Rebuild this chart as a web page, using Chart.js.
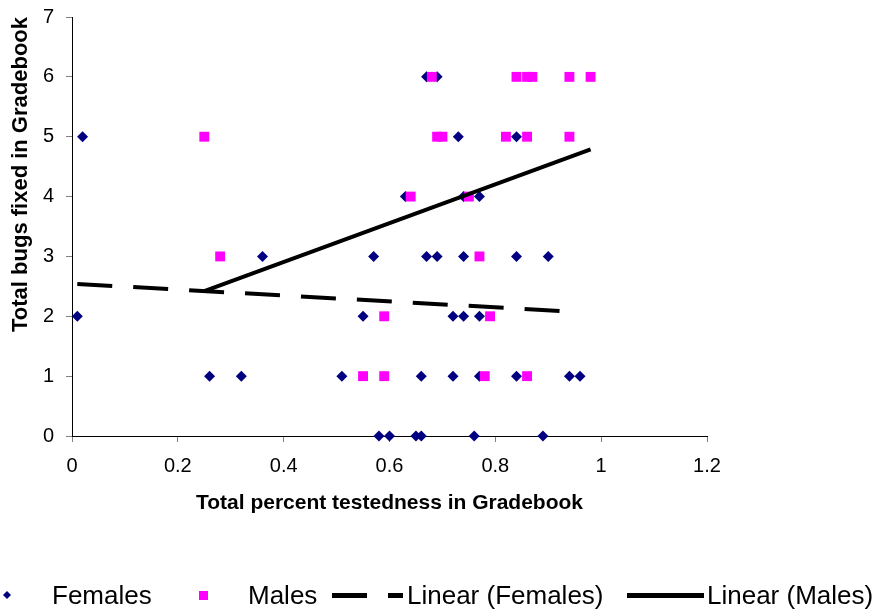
<!DOCTYPE html>
<html>
<head>
<meta charset="utf-8">
<script src="https://cdn.jsdelivr.net/npm/chart.js@4.4.1/dist/chart.umd.min.js"></script>
<style>
  body { margin: 0; background: #fff; }
  #wrap { position: relative; width: 881px; height: 612px; font-family: Arial, "Liberation Sans", sans-serif; }
  #legend span { position: absolute; top: 580px; font-size: 26px; line-height: 30px; color: #000; white-space: nowrap; }
  #legend svg { position: absolute; left: 0; top: 0; }
</style>
</head>
<body>
<div id="wrap">
  <canvas id="bugsChart" width="881" height="612"></canvas>
  <div id="legend">
    <svg width="881" height="612">
      <polygon points="7,591 11,595 7,599 3,595" fill="#000080"/>
      <rect x="199" y="591" width="9" height="9" fill="#FF00FF"/>
      <rect x="332" y="593" width="35" height="5" fill="#000"/>
      <rect x="388" y="593" width="15" height="5" fill="#000"/>
      <rect x="627" y="593" width="77" height="5" fill="#000"/>
    </svg>
    <span style="left:52px">Females</span>
    <span style="left:248px">Males</span>
    <span style="left:407px">Linear (Females)</span>
    <span style="left:707px">Linear (Males)</span>
  </div>
</div>
<script>
// values
const femaleX = [0.67, 0.69,
                 0.02, 0.73, 0.84,
                 0.63, 0.74, 0.77,
                 0.36, 0.57, 0.67, 0.69, 0.74, 0.84, 0.90,
                 0.01, 0.55, 0.72, 0.74, 0.77,
                 0.26, 0.32, 0.51, 0.66, 0.72, 0.77, 0.84, 0.94, 0.96,
                 0.58, 0.60, 0.65, 0.66, 0.76, 0.89];
const femaleY = [6, 6,
                 5, 5, 5,
                 4, 4, 4,
                 3, 3, 3, 3, 3, 3, 3,
                 2, 2, 2, 2, 2,
                 1, 1, 1, 1, 1, 1, 1, 1, 1,
                 0, 0, 0, 0, 0, 0];

const maleX = [0.68, 0.84, 0.86, 0.87, 0.94, 0.98,
               0.25, 0.69, 0.70, 0.82, 0.86, 0.94,
               0.64, 0.75,
               0.28, 0.77,
               0.59, 0.79,
               0.55, 0.59, 0.78, 0.86];
const maleY = [6, 6, 6, 6, 6, 6,
               5, 5, 5, 5, 5, 5,
               4, 4,
               3, 3,
               2, 2,
               1, 1, 1, 1];

// trendline end points (as drawn)
const femaleTrendX = [0.01, 0.96];
const femaleTrendY = [2.54, 2.07];
const maleTrendX = [0.25, 0.98];
const maleTrendY = [2.42, 4.79];

const xTickLabels = ['0', '0.2', '0.4', '0.6', '0.8', '1', '1.2'];
const yTickLabels = ['0', '1', '2', '3', '4', '5', '6', '7'];

const toPoints = (xs, ys) => xs.map((x, i) => ({ x: x, y: ys[i] }));

const font = 'Arial, "Liberation Sans", sans-serif';

const ctx = document.getElementById('bugsChart').getContext('2d');
const bugsChart = new Chart(ctx, {
    type: 'scatter',
    data: {
        datasets: [{
            label: 'Linear (Females)',
            data: toPoints(femaleTrendX, femaleTrendY),
            showLine: true,
            borderColor: '#000',
            borderWidth: 4,
            borderDash: [35, 21],
            pointRadius: 0,
            order: 0,
            clip: false
        }, {
            label: 'Linear (Males)',
            data: toPoints(maleTrendX, maleTrendY),
            showLine: true,
            borderColor: '#000',
            borderWidth: 4,
            pointRadius: 0,
            order: 0,
            clip: false
        }, {
            label: 'Males',
            data: toPoints(maleX, maleY),
            pointStyle: 'rect',
            pointRadius: 7,
            borderWidth: 0,
            backgroundColor: '#FF00FF',
            borderColor: '#FF00FF',
            order: 1,
            clip: false
        }, {
            label: 'Females',
            data: toPoints(femaleX, femaleY),
            pointStyle: 'rectRot',
            pointRadius: 5.5,
            borderWidth: 0,
            backgroundColor: '#000080',
            borderColor: '#000080',
            order: 2,
            clip: false
        }]
    },
    options: {
        responsive: false,
        animation: false,
        layout: {
            padding: { left: 0, top: 17, right: 174, bottom: 92 }
        },
        plugins: {
            legend: { display: false },
            tooltip: { enabled: false }
        },
        scales: {
            x: {
                type: 'linear',
                min: 0,
                max: 1.2,
                ticks: {
                    stepSize: 0.2,
                    padding: 12,
                    color: '#000',
                    font: { family: font, size: 20 },
                    maxRotation: 0,
                    callback: (v, i) => xTickLabels[i]
                },
                grid: { display: true, drawOnChartArea: false, drawTicks: true, tickLength: 6, color: '#808080' },
                border: { display: true, color: '#000', width: 1 },
                title: {
                    display: true,
                    text: 'Total percent testedness in Gradebook',
                    color: '#000',
                    font: { family: font, size: 21, weight: 'bold' },
                    padding: { top: 0, bottom: 4 }
                },
                afterFit: (scale) => { scale.height = 84; }
            },
            y: {
                type: 'linear',
                min: 0,
                max: 7,
                ticks: {
                    stepSize: 1,
                    padding: 12,
                    color: '#000',
                    font: { family: font, size: 20 },
                    callback: (v, i) => yTickLabels[i]
                },
                grid: { display: true, drawOnChartArea: false, drawTicks: true, tickLength: 6, color: '#808080' },
                border: { display: true, color: '#000', width: 1 },
                title: {
                    display: true,
                    text: 'Total bugs fixed in Gradebook',
                    align: 'end',
                    color: '#000',
                    font: { family: font, size: 22, weight: 'bold' },
                    padding: { top: 8, bottom: 0 }
                },
                afterFit: (scale) => {
                    scale.width = 72;
                    scale.paddingTop = 0;
                    scale.paddingBottom = 0;
                }
            }
        }
    }
});
</script>
</body>
</html>
